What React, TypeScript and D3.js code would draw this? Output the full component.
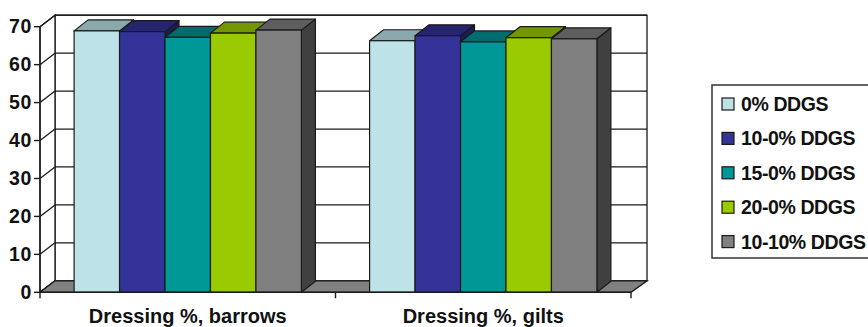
import React from "react";
import * as d3 from "d3";

// Dressing percentage by diet, two sexes
const categories = ["Dressing %, barrows", "Dressing %, gilts"];
const seriesNames = ["0% DDGS", "10-0% DDGS", "15-0% DDGS", "20-0% DDGS", "10-10% DDGS"];
const barrows = [68.9, 68.7, 67.2, 68.3, 69.1];
const gilts = [66.3, 67.6, 66.0, 67.1, 66.8];
const yTicks = [0, 10, 20, 30, 40, 50, 60, 70];

const values = [barrows, gilts];

const frontColors = ["#bde2e7", "#333399", "#009797", "#9acb00", "#808080"];
const topColors = ["#8aa9ad", "#25256f", "#006c6d", "#729700", "#5e5e5e"];
const sideColors = ["#7d9a9e", "#1c1c55", "#005252", "#566f00", "#404040"];

const W = 868;
const H = 327;
const x0 = 40;
const x1 = 631;
const wallDx = 15;
const wallDy = -11.5;
const barDx = 14;
const barDy = -11;
const stroke = "#1a1a1a";
const font = "'Liberation Sans', Arial, sans-serif";

export default function App() {
  const y = d3.scaleLinear().domain([0, 70]).range([292.3, 26.7]);
  const xCat = d3.scaleBand<string>().domain(categories).range([x0, x1]).padding(0);
  const xSer = d3
    .scaleBand<string>()
    .domain(seriesNames)
    .range([0, xCat.bandwidth()])
    .paddingInner(0)
    .paddingOuter(0.75);

  const yB = (v: number) => y(v) + wallDy;
  const bx0 = x0 + wallDx;
  const bx1 = x1 + wallDx + 1;

  const pts = (p: [number, number][]) => p.map((d) => d.join(",")).join(" ");

  return (
    <svg
      width={W}
      height={H}
      style={{ position: "absolute", left: 0, top: 0, background: "#fff" }}
      fontFamily={font}
    >
      {/* back wall */}
      <rect
        x={bx0}
        y={yB(70)}
        width={bx1 - bx0}
        height={yB(0) - yB(70)}
        fill="#fff"
        stroke={stroke}
        strokeWidth={1.3}
      />
      {yTicks.map((t) => (
        <line key={"g" + t} x1={bx0} x2={bx1} y1={yB(t)} y2={yB(t)} stroke={stroke} strokeWidth={1.3} />
      ))}
      {/* side wall */}
      <polygon
        points={pts([
          [x0, y(0)],
          [x0, y(70)],
          [bx0, yB(70)],
          [bx0, yB(0)],
        ])}
        fill="#fff"
        stroke={stroke}
        strokeWidth={1.3}
      />
      {yTicks.map((t) => (
        <line key={"d" + t} x1={x0} y1={y(t)} x2={bx0} y2={yB(t)} stroke={stroke} strokeWidth={1.3} />
      ))}
      {/* floor */}
      <polygon
        points={pts([
          [x0, y(0)],
          [x1, y(0)],
          [bx1, yB(0)],
          [bx0, yB(0)],
        ])}
        fill="#808080"
        stroke={stroke}
        strokeWidth={1.3}
      />
      {/* bars */}
      {categories.map((c, ci) =>
        seriesNames.map((s, si) => {
          const v = values[ci][si];
          const l = (xCat(c) as number) + (xSer(s) as number);
          const r = l + xSer.bandwidth();
          const top = y(v);
          const bot = y(0);
          return (
            <g key={c + s}>
              <polygon
                points={pts([
                  [r, bot],
                  [r, top],
                  [r + barDx, top + barDy],
                  [r + barDx, bot + barDy],
                ])}
                fill={sideColors[si]}
                stroke={stroke}
                strokeWidth={1.2}
                strokeLinejoin="round"
              />
              <polygon
                points={pts([
                  [l, top],
                  [r, top],
                  [r + barDx, top + barDy],
                  [l + barDx, top + barDy],
                ])}
                fill={topColors[si]}
                stroke={stroke}
                strokeWidth={1.2}
                strokeLinejoin="round"
              />
              <rect
                x={l}
                y={top}
                width={r - l}
                height={bot - top}
                fill={frontColors[si]}
                stroke={stroke}
                strokeWidth={1.2}
              />
            </g>
          );
        })
      )}
      {/* value axis */}
      <line x1={x0} x2={x0} y1={y(0)} y2={y(70)} stroke={stroke} strokeWidth={1.4} />
      {yTicks.map((t) => (
        <g key={"t" + t}>
          <line x1={x0 - 6} x2={x0} y1={y(t)} y2={y(t)} stroke={stroke} strokeWidth={1.4} />
          <text
            x={32}
            y={y(t) + 6.5}
            textAnchor="end"
            fontSize={19.5}
            fontWeight="bold"
            letterSpacing={0.6}
            fill="#111"
          >
            {t}
          </text>
        </g>
      ))}
      {/* category axis */}
      <line x1={x0} x2={x1} y1={y(0)} y2={y(0)} stroke={stroke} strokeWidth={1.4} />
      {[x0, x0 + xCat.step(), x1].map((xx, i) => (
        <line key={"c" + i} x1={xx} x2={xx} y1={y(0)} y2={y(0) + 6} stroke={stroke} strokeWidth={1.4} />
      ))}
      {categories.map((c) => (
        <text
          key={"l" + c}
          x={(xCat(c) as number) + xCat.bandwidth() / 2}
          y={323}
          textAnchor="middle"
          fontSize={20}
          fontWeight="bold"
          fill="#111"
        >
          {c}
        </text>
      ))}
      {/* legend */}
      <rect x={712} y={85} width={170} height={173} fill="#fff" stroke="#333" strokeWidth={1.5} />
      {seriesNames.map((s, i) => {
        const cy = 104 + i * 34.4;
        return (
          <g key={"lg" + s}>
            <rect x={722} y={cy - 6} width={12} height={12} fill={frontColors[i]} stroke={stroke} strokeWidth={1.2} />
            <text x={741} y={cy + 7} fontSize={19.5} fontWeight="bold" letterSpacing={-0.4} fill="#111">
              {s}
            </text>
          </g>
        );
      })}
    </svg>
  );
}
